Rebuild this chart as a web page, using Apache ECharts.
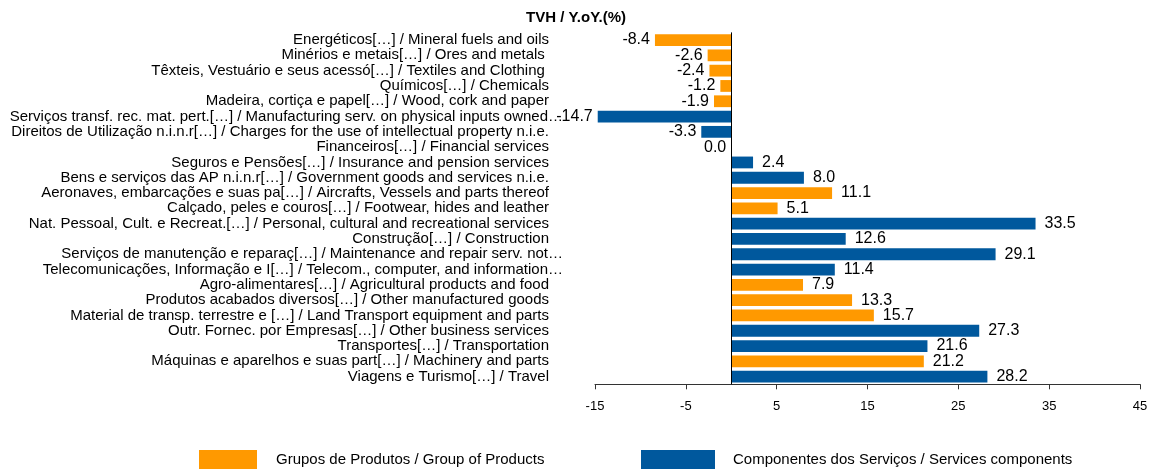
<!DOCTYPE html>
<html>
<head>
<meta charset="utf-8">
<script src="https://cdn.jsdelivr.net/npm/echarts@6/dist/echarts.min.js"></script>
<style>
  html, body { margin: 0; padding: 0; background: #fff; }
  #chart { width: 1151px; height: 470px; }
</style>
</head>
<body>
<div id="chart"></div>
<script>
const categories = [
  "Energéticos[…] / Mineral fuels and oils",
  "Minérios e metais[…] / Ores and metals ",
  "Têxteis, Vestuário e seus acessó[…] / Textiles and Clothing ",
  "Químicos[…] / Chemicals",
  "Madeira, cortiça e papel[…] / Wood, cork and paper",
  "Serviços transf. rec. mat. pert.[…] / Manufacturing serv. on physical inputs owned…",
  "Direitos de Utilização n.i.n.r[…] / Charges for the use of intellectual property n.i.e.",
  "Financeiros[…] / Financial services",
  "Seguros e Pensões[…] / Insurance and pension services",
  "Bens e serviços das AP n.i.n.r[…] / Government goods and services n.i.e.",
  "Aeronaves, embarcações e suas pa[…] / Aircrafts, Vessels and parts thereof",
  "Calçado, peles e couros[…] / Footwear, hides and leather",
  "Nat. Pessoal, Cult. e Recreat.[…] / Personal, cultural and recreational services",
  "Construção[…] / Construction",
  "Serviços de manutenção e reparaç[…] / Maintenance and repair serv. not…",
  "Telecomunicações, Informação e I[…] / Telecom., computer, and information…",
  "Agro-alimentares[…] / Agricultural products and food",
  "Produtos acabados diversos[…] / Other manufactured goods",
  "Material de transp. terrestre e […] / Land Transport equipment and parts",
  "Outr. Fornec. por Empresas[…] / Other business services",
  "Transportes[…] / Transportation",
  "Máquinas e aparelhos e suas part[…] / Machinery and parts",
  "Viagens e Turismo[…] / Travel"
];
const products = [-8.4, -2.6, -2.4, -1.2, -1.9, null, null, null, null, null, 11.1, 5.1, null, null, null, null, 7.9, 13.3, 15.7, null, null, 21.2, null];
const services = [null, null, null, null, null, -14.7, -3.3, 0.0, 2.4, 8.0, null, null, 33.5, 12.6, 29.1, 11.4, null, null, null, 27.3, 21.6, null, 28.2];
const tickValues = [-15, -5, 5, 15, 25, 35, 45];
const seriesNames = ["Grupos de Produtos / Group of Products", "Componentes dos Serviços / Services components"];
const titleText = "TVH / Y.oY.(%)";

const FONT = "Liberation Sans, Arial, sans-serif";
const ORANGE = "#FF9900";
const BLUE = "#00589D";

function toItems(arr) {
  return arr.map(v => v === null ? '-' : {
    value: v,
    label: v <= 0 ? { position: 'left', distance: 5 } : { position: 'right', distance: 9 }
  });
}

const chart = echarts.init(document.getElementById('chart'), null, { renderer: 'canvas' });
chart.setOption({
  animation: false,
  backgroundColor: '#fff',
  title: {
    text: titleText,
    left: 526, top: 10, padding: 0,
    textStyle: { fontFamily: FONT, fontSize: 15, fontWeight: 'bold', color: '#000' }
  },
  legend: [
    {
      data: [seriesNames[0]], left: 199, top: 450, padding: 0,
      icon: 'rect', itemWidth: 58, itemHeight: 19,
      textStyle: { fontFamily: FONT, fontSize: 15, color: '#000', padding: [0, 0, 0, 14] }
    },
    {
      data: [seriesNames[1]], left: 641, top: 450, padding: 0,
      icon: 'rect', itemWidth: 74, itemHeight: 19,
      textStyle: { fontFamily: FONT, fontSize: 15, color: '#000', padding: [0, 0, 0, 13] }
    }
  ],
  grid: { left: 595, right: 11, top: 32.4, bottom: 85.7, containLabel: false, outerBoundsMode: 'none' },
  xAxis: {
    type: 'value', min: -15, max: 45,
    axisLine: { show: true, lineStyle: { color: '#333', width: 1 } },
    axisTick: { show: true, customValues: tickValues, length: 5, lineStyle: { color: '#333' } },
    axisLabel: {
      customValues: tickValues, margin: 16,
      fontFamily: FONT, fontSize: 13, color: '#000'
    },
    splitLine: { show: false }
  },
  yAxis: {
    type: 'category', data: categories, inverse: true,
    axisLine: { show: false, onZero: false },
    axisTick: { show: false },
    axisLabel: {
      margin: 32, interval: 0, fontFamily: FONT, fontSize: 15, color: '#000',
      formatter: function (v) {
        if (v.endsWith('…')) return '{t|' + v.slice(0, -1) + '}{e|…}';
        return '{t|' + v + '}{p| }';
      },
      rich: {
        t: { fontFamily: FONT, fontSize: 15, color: '#000' },
        e: { fontFamily: FONT, fontSize: 15, color: '#000', width: 15 },
        p: { fontFamily: FONT, fontSize: 15, color: '#000', width: 14 }
      }
    }
  },
  series: [
    {
      name: seriesNames[0], type: 'bar', data: toItems(products),
      barWidth: '77%', barGap: '-100%',
      itemStyle: { color: ORANGE },
      label: { show: true, fontFamily: FONT, fontSize: 16, color: '#000',
        formatter: p => Number(p.value).toFixed(1) }
    },
    {
      name: seriesNames[1], type: 'bar', data: toItems(services),
      barWidth: '77%', barGap: '-100%',
      itemStyle: { color: BLUE },
      label: { show: true, fontFamily: FONT, fontSize: 16, color: '#000',
        formatter: p => Number(p.value).toFixed(1) },
      markLine: {
        silent: true, symbol: 'none', animation: false,
        label: { show: false },
        lineStyle: { color: '#000', width: 1, type: 'solid' },
        data: [{ xAxis: 0 }]
      }
    }
  ]
});
</script>
</body>
</html>
